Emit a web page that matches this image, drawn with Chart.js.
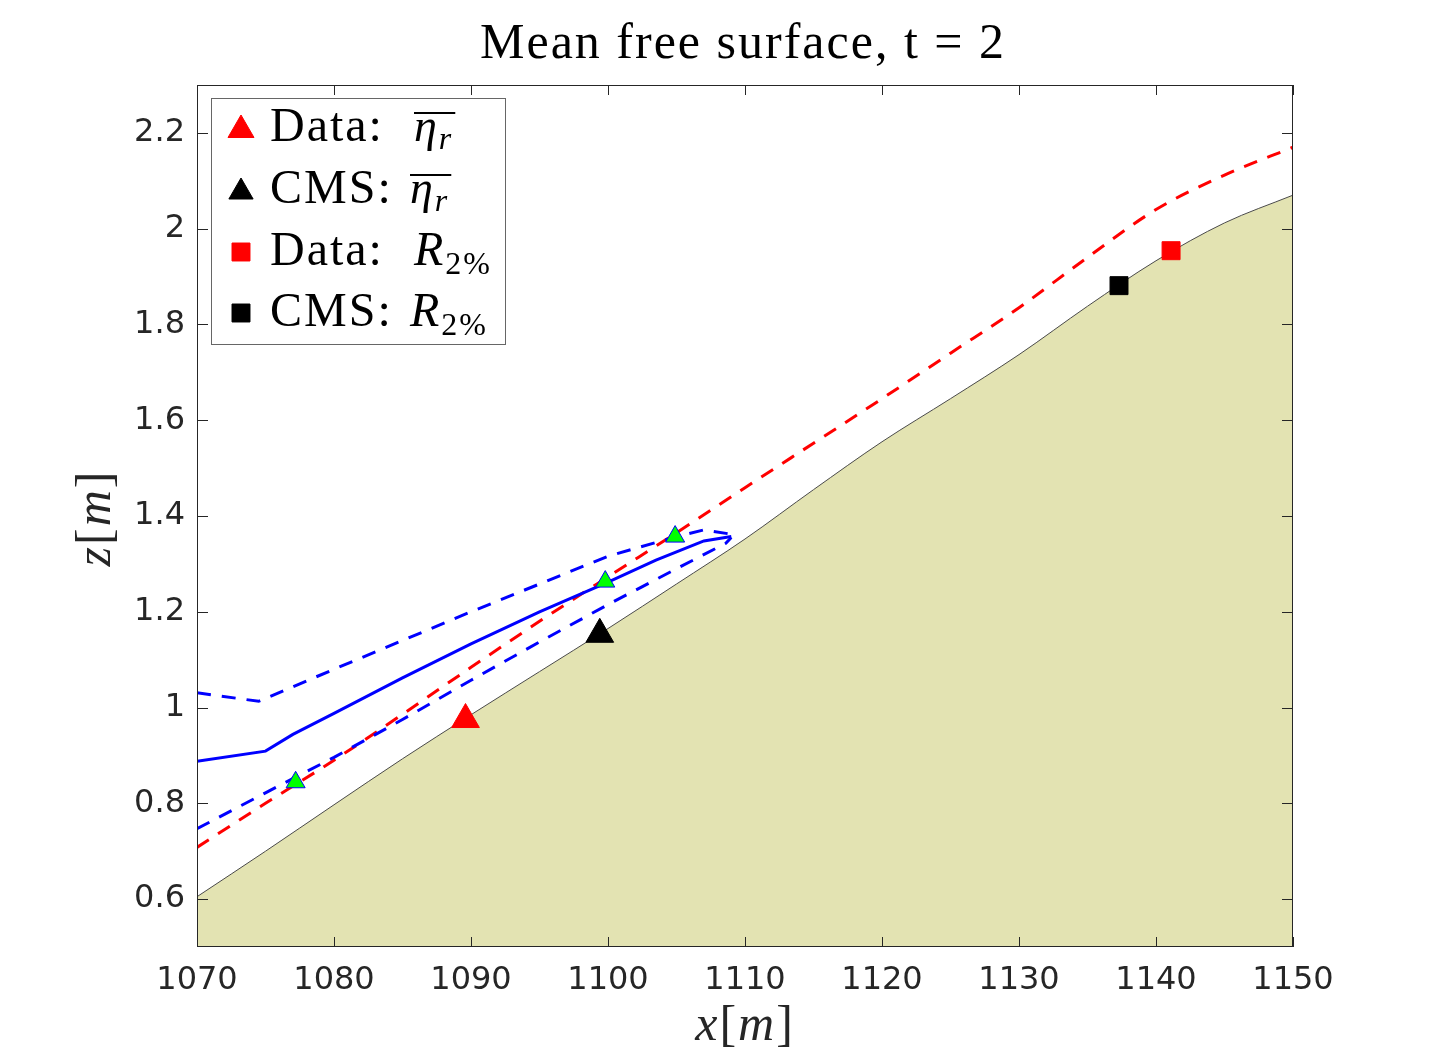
<!DOCTYPE html>
<html>
<head>
<meta charset="utf-8">
<title>Mean free surface, t = 2</title>
<script src="https://cdn.jsdelivr.net/npm/chart.js@4.4.1/dist/chart.umd.min.js"></script>
<style>
  html, body { margin: 0; padding: 0; background: #fff; }
  #wrap { width: 1435px; height: 1059px; }
</style>
</head>
<body>
<div id="wrap"><canvas id="chart" width="1435" height="1059"></canvas></div>
<script>
// values (x and z in metres)
var bedX = [1070, 1075, 1080, 1085, 1090, 1095, 1100, 1105, 1110, 1115, 1120, 1125, 1130, 1135, 1140, 1145, 1150];
var bedZ = [0.605, 0.700, 0.797, 0.893, 0.985, 1.075, 1.165, 1.258, 1.352, 1.455, 1.555, 1.645, 1.737, 1.838, 1.933, 2.012, 2.070];

var r2LineX = [1070, 1075, 1080, 1085, 1090, 1095, 1100, 1105, 1110, 1115, 1120, 1125, 1130, 1135, 1140, 1145, 1150];
var r2LineZ = [0.708, 0.800, 0.890, 0.986, 1.084, 1.180, 1.273, 1.365, 1.459, 1.552, 1.645, 1.740, 1.835, 1.940, 2.040, 2.112, 2.170];

var meanX = [1070, 1075, 1077, 1080, 1085, 1090, 1095, 1100, 1103.5, 1107, 1109];
var meanZ = [0.888, 0.909, 0.944, 0.988, 1.062, 1.133, 1.200, 1.262, 1.308, 1.348, 1.357];

var upperX = [1070, 1074.5, 1080, 1085, 1090, 1095, 1100, 1105, 1107, 1109];
var upperZ = [1.031, 1.013, 1.080, 1.140, 1.200, 1.258, 1.316, 1.357, 1.371, 1.362];

var lowerX = [1070, 1075, 1080, 1085, 1090, 1095, 1100, 1105, 1108.6, 1109];
var lowerZ = [0.747, 0.822, 0.896, 0.975, 1.057, 1.137, 1.215, 1.290, 1.343, 1.355];

var gaugeX = [1077.2, 1099.8, 1104.9];
var gaugeZ = [0.844, 1.263, 1.357];

var dataEtaX = [1089.6], dataEtaZ = [0.975];
var cmsEtaX = [1099.4], cmsEtaZ = [1.153];
var dataR2X = [1141.1], dataR2Z = [1.954];
var cmsR2X = [1137.3], cmsR2Z = [1.881];

var xTicks = [1070, 1080, 1090, 1100, 1110, 1120, 1130, 1140, 1150];
var yTicks = [0.6, 0.8, 1.0, 1.2, 1.4, 1.6, 1.8, 2.0, 2.2];

var AXIS_COLOR = '#262626';
var SERIF = '"Liberation Serif", "Times New Roman", serif';

function pts(xs, ys) {
  return xs.map(function (x, i) { return { x: x, y: ys[i] }; });
}

function lineSet(xs, ys, color, dashed, smooth, order) {
  return {
    data: pts(xs, ys),
    showLine: true,
    borderColor: color,
    borderWidth: 3,
    borderDash: dashed ? [14, 11] : [],
    pointRadius: 0,
    cubicInterpolationMode: smooth ? 'monotone' : 'default',
    tension: 0,
    fill: false,
    order: order
  };
}

function markerSet(xs, ys, style, radius, fill, edge, order) {
  return {
    data: pts(xs, ys),
    showLine: false,
    pointStyle: style,
    pointRadius: radius,
    pointBackgroundColor: fill,
    pointBorderColor: edge,
    pointBorderWidth: 1,
    order: order
  };
}

// draws a run of text pieces left to right, returns end x
function drawPieces(ctx, pieces, x, y) {
  pieces.forEach(function (p) {
    ctx.font = p.font;
    ctx.fillText(p.t, x, y + (p.dy || 0));
    x += ctx.measureText(p.t).width;
  });
  return x;
}

function piecesWidth(ctx, pieces) {
  var w = 0;
  pieces.forEach(function (p) { ctx.font = p.font; w += ctx.measureText(p.t).width; });
  return w;
}

var decorPlugin = {
  id: 'decor',
  afterDraw: function (chart) {
    var ctx = chart.ctx;
    var ca = chart.chartArea;
    var xs = chart.scales.x, ys = chart.scales.y;
    ctx.save();

    // box + inward ticks on all four sides
    ctx.strokeStyle = AXIS_COLOR;
    ctx.lineWidth = 1;
    ctx.strokeRect(ca.left + 0.5, ca.top + 0.5, ca.right - ca.left - 1, ca.bottom - ca.top - 1);
    ctx.beginPath();
    xTicks.forEach(function (v) {
      var px = Math.round(xs.getPixelForValue(v)) + 0.5;
      ctx.moveTo(px, ca.bottom); ctx.lineTo(px, ca.bottom - 10);
      ctx.moveTo(px, ca.top); ctx.lineTo(px, ca.top + 10);
    });
    yTicks.forEach(function (v) {
      var py = Math.round(ys.getPixelForValue(v)) + 0.5;
      ctx.moveTo(ca.left, py); ctx.lineTo(ca.left + 11, py);
      ctx.moveTo(ca.right, py); ctx.lineTo(ca.right - 11, py);
    });
    ctx.stroke();

    // title
    ctx.fillStyle = '#000';
    ctx.textBaseline = 'alphabetic';
    ctx.textAlign = 'center';
    ctx.font = '50px ' + SERIF;
    if ('letterSpacing' in ctx) ctx.letterSpacing = '2px';
    ctx.fillText('Mean free surface, t = 2', (ca.left + ca.right) / 2 - 2, 58);

    // axis labels x[m] and z[m]
    ctx.textAlign = 'left';
    ctx.fillStyle = AXIS_COLOR;
    var lab = function (v) {
      return [
        { t: v, font: 'italic 50px ' + SERIF },
        { t: '[', font: '50px ' + SERIF },
        { t: 'm', font: 'italic 50px ' + SERIF },
        { t: ']', font: '50px ' + SERIF }
      ];
    };
    var xl = lab('x');
    drawPieces(ctx, xl, (ca.left + ca.right) / 2 - piecesWidth(ctx, xl) / 2, 1040);
    var zl = lab('z');
    ctx.save();
    ctx.translate(110, (ca.top + ca.bottom) / 2 + 2);
    ctx.rotate(-Math.PI / 2);
    drawPieces(ctx, zl, -piecesWidth(ctx, zl) / 2, 0);
    ctx.restore();

    // legend
    var bx = ca.left + 14, by = ca.top + 13, bw = 294, bh = 246;
    ctx.fillStyle = '#fff';
    ctx.fillRect(bx, by, bw, bh);
    ctx.strokeStyle = '#666';
    ctx.strokeRect(bx + 0.5, by + 0.5, bw, bh);

    var rows = [
      { style: 'triangle', r: 15, color: '#ff0000', my: 130, base: 141, word: 'Data:', mx: 414, sym: 'eta' },
      { style: 'triangle', r: 14, color: '#000000', my: 192, base: 203, word: 'CMS:', mx: 410, sym: 'eta' },
      { style: 'rect', r: 12.7, color: '#ff0000', my: 252, base: 265, word: 'Data:', mx: 414, sym: 'R' },
      { style: 'rect', r: 12.7, color: '#000000', my: 313, base: 326, word: 'CMS:', mx: 410, sym: 'R' }
    ];
    rows.forEach(function (row) {
      ctx.fillStyle = row.color;
      ctx.strokeStyle = row.color;
      ctx.lineWidth = 1;
      Chart.helpers.drawPoint(ctx, { pointStyle: row.style, radius: row.r, borderWidth: 1, rotation: 0 }, 241, row.my);
      ctx.fillStyle = '#000';
      drawPieces(ctx, [{ t: row.word, font: '48px ' + SERIF }], 270, row.base);
      var end;
      if (row.sym === 'eta') {
        end = drawPieces(ctx, [
          { t: '\u03b7', font: 'italic 46px ' + SERIF },
          { t: 'r', font: 'italic 32px ' + SERIF, dy: 8 }
        ], row.mx, row.base);
        ctx.fillRect(row.mx, row.base - 29, end - row.mx + 2, 2);
      } else {
        drawPieces(ctx, [
          { t: 'R', font: 'italic 48px ' + SERIF },
          { t: '2%', font: '32px ' + SERIF, dy: 9 }
        ], row.mx, row.base);
      }
    });
    if ('letterSpacing' in ctx) ctx.letterSpacing = '0px';
    ctx.restore();
  }
};

var datasets = [
  markerSet(gaugeX, gaugeZ, 'triangle', 11, '#00ff00', '#0000ff', 0),
  markerSet(dataEtaX, dataEtaZ, 'triangle', 16, '#ff0000', '#ff0000', 0),
  markerSet(cmsEtaX, cmsEtaZ, 'triangle', 16, '#000000', '#000000', 0),
  markerSet(dataR2X, dataR2Z, 'rect', 12.7, '#ff0000', '#ff0000', 0),
  markerSet(cmsR2X, cmsR2Z, 'rect', 12.7, '#000000', '#000000', 0),
  lineSet(meanX, meanZ, '#0000ff', false, false, 1),
  lineSet(upperX, upperZ, '#0000ff', true, false, 1),
  lineSet(lowerX, lowerZ, '#0000ff', true, false, 1),
  lineSet(r2LineX, r2LineZ, '#ff0000', true, true, 1),
  {
    data: pts(bedX, bedZ),
    showLine: true,
    borderColor: '#4a4a4a',
    borderWidth: 1,
    backgroundColor: 'rgb(227,227,178)',
    fill: 'start',
    pointRadius: 0,
    cubicInterpolationMode: 'monotone',
    order: 5
  }
];

new Chart(document.getElementById('chart'), {
  type: 'scatter',
  data: { datasets: datasets },
  options: {
    responsive: false,
    animation: false,
    events: [],
    layout: { padding: { left: 0, right: 142, top: 85, bottom: 0 } },
    plugins: {
      legend: { display: false },
      title: { display: false },
      tooltip: { enabled: false }
    },
    scales: {
      x: {
        type: 'linear',
        min: 1070,
        max: 1150,
        grid: { display: false, drawTicks: false },
        border: { display: false },
        afterBuildTicks: function (scale) {
          scale.ticks = xTicks.map(function (v) { return { value: v }; });
        },
        afterFit: function (scale) { scale.height = 112; },
        ticks: {
          padding: 14,
          color: AXIS_COLOR,
          font: { family: 'DejaVu Sans', size: 32 },
          maxRotation: 0,
          autoSkip: false,
          callback: function (v) { return String(v); }
        }
      },
      y: {
        type: 'linear',
        min: 0.5,
        max: 2.3,
        grid: { display: false, drawTicks: false },
        border: { display: false },
        afterBuildTicks: function (scale) {
          scale.ticks = yTicks.map(function (v) { return { value: v }; });
        },
        afterFit: function (scale) { scale.width = 197; },
        ticks: {
          padding: 12,
          color: AXIS_COLOR,
          font: { family: 'DejaVu Sans', size: 32 },
          autoSkip: false,
          callback: function (v) { return String(+Number(v).toFixed(1)); }
        }
      }
    }
  },
  plugins: [decorPlugin]
});
</script>
</body>
</html>
